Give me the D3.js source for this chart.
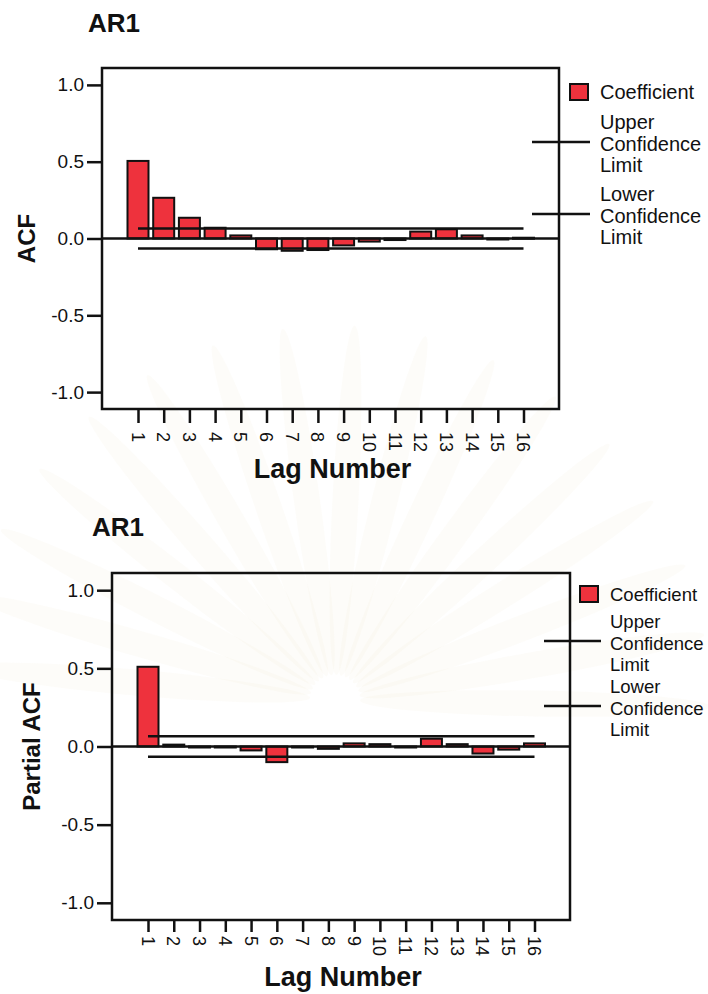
<!DOCTYPE html>
<html>
<head>
<meta charset="utf-8">
<script src="https://cdn.jsdelivr.net/npm/d3@7"></script>
<style>
  body { margin: 0; background: #fff; }
  text { font-family: "Liberation Sans", Arial, sans-serif; fill: #111; }
</style>
</head>
<body>
<svg id="chart" width="708" height="994"></svg>
<script>
// lags and coefficients
const lags = d3.range(1, 17);
const acfValues = [0.505, 0.265, 0.135, 0.07, 0.02, -0.07, -0.08, -0.075, -0.045, -0.02, -0.01, 0.045, 0.06, 0.02, -0.005, 0.005];
const pacfValues = [0.51, 0.012, -0.002, -0.003, -0.025, -0.1, -0.003, -0.015, 0.02, 0.015, -0.005, 0.05, 0.015, -0.045, -0.02, 0.02];
const confLimit = 0.065;
const yTicks = [1.0, 0.5, 0.0, -0.5, -1.0];
const legendItems = [["Coefficient"], ["Upper", "Confidence", "Limit"], ["Lower", "Confidence", "Limit"]];

const svg = d3.select("#chart");
const FONT = "\"Liberation Sans\", Arial, sans-serif";

// very faint watermark rays behind everything
const wm = svg.append("g").attr("transform", "translate(335,700)");
d3.range(-175, 5, 11).forEach(a => {
  wm.append("ellipse")
    .attr("cx", 200).attr("cy", 0).attr("rx", 175).attr("ry", 13)
    .attr("transform", "rotate(" + a + ")")
    .style("fill", "#f3ead0").style("opacity", 0.13);
});

function drawPanel(cfg) {
  const { left, right, top, bottom, values, title, titleX, titleY, yLabel, yLabelX,
          tickLen, tickLabelGap, xTitleGap, legendX, lineX0, lineX1, legendY, legendFont } = cfg;

  const x = d3.scalePoint().domain(lags).range([left + 36, right - 35.5]);
  const y = d3.scaleLinear().domain([-1.11, 1.11]).range([bottom, top]);
  const barW = 21;

  const g = svg.append("g");

  g.append("text")
    .attr("x", titleX).attr("y", titleY)
    .attr("text-anchor", "middle")
    .style("font-size", "26px").style("font-weight", "bold")
    .text(title);

  // plot frame
  g.append("rect")
    .attr("x", left).attr("y", top)
    .attr("width", right - left).attr("height", bottom - top)
    .style("fill", "none").style("stroke", "#111").style("stroke-width", 2.5);

  // bars
  g.selectAll("rect.bar")
    .data(values)
    .enter()
    .append("rect")
    .attr("class", "bar")
    .attr("x", (d, i) => x(lags[i]) - barW / 2)
    .attr("y", d => y(Math.max(d, 0)))
    .attr("width", barW)
    .attr("height", d => Math.max(Math.abs(y(d) - y(0)), 1))
    .style("fill", "#ee323d").style("stroke", "#111").style("stroke-width", 2);

  // zero line
  g.append("line")
    .attr("x1", left).attr("x2", right)
    .attr("y1", y(0)).attr("y2", y(0))
    .style("stroke", "#111").style("stroke-width", 2.5);

  // confidence limits
  [confLimit, -confLimit].forEach(c => {
    g.append("line")
      .attr("x1", x(1)).attr("x2", x(16))
      .attr("y1", y(c)).attr("y2", y(c))
      .style("stroke", "#111").style("stroke-width", 2.5);
  });

  // y axis
  const yAxis = g.append("g")
    .attr("transform", "translate(" + left + ",0)")
    .call(d3.axisLeft(y).tickValues(yTicks).tickSize(15).tickPadding(3).tickFormat(d => d.toFixed(1)));
  yAxis.select(".domain").remove();
  yAxis.selectAll("line").style("stroke", "#111").style("stroke-width", 2.5);
  yAxis.selectAll("text")
    .style("font-size", "19px").style("font-family", FONT).attr("fill", "#111");

  // x axis: ticks from the axis, labels rotated by hand
  const xAxis = g.append("g")
    .attr("transform", "translate(0," + bottom + ")")
    .call(d3.axisBottom(x).tickSize(tickLen).tickFormat(""));
  xAxis.select(".domain").remove();
  xAxis.selectAll("line").style("stroke", "#111").style("stroke-width", 2.5);

  g.selectAll("text.lag")
    .data(lags)
    .enter()
    .append("text")
    .attr("class", "lag")
    .attr("transform", d => "translate(" + (x(d) - 6.5) + "," + (bottom + tickLabelGap) + ") rotate(90)")
    .attr("text-anchor", "start")
    .style("font-size", "18px").style("font-family", FONT)
    .text(d => d);

  g.append("text")
    .attr("x", (left + right) / 2 + 2).attr("y", bottom + xTitleGap)
    .attr("text-anchor", "middle")
    .style("font-size", "27px").style("font-weight", "bold")
    .text("Lag Number");

  g.append("text")
    .attr("transform", "translate(" + yLabelX + "," + y(0) + ") rotate(-90)")
    .attr("text-anchor", "middle")
    .style("font-size", "24px").style("font-weight", "bold")
    .text(yLabel);

  // legend
  const lg = g.append("g");
  lg.append("rect")
    .attr("x", legendX - 30).attr("y", legendY[0] - 15)
    .attr("width", 18).attr("height", 16)
    .style("fill", "#ee323d").style("stroke", "#111").style("stroke-width", 2);
  legendItems.forEach((lines, k) => {
    lines.forEach((s, j) => {
      lg.append("text")
        .attr("x", legendX).attr("y", legendY[k] + j * 21.5)
        .style("font-size", legendFont + "px")
        .text(s);
    });
    if (k > 0) {
      lg.append("line")
        .attr("x1", lineX0).attr("x2", lineX1)
        .attr("y1", legendY[k] + 13).attr("y2", legendY[k] + 13)
        .style("stroke", "#111").style("stroke-width", 2.5);
    }
  });
}

drawPanel({
  left: 102, right: 559, top: 68, bottom: 409,
  values: acfValues, title: "AR1", titleX: 114, titleY: 32,
  yLabel: "ACF", yLabelX: 35, tickLen: 14, tickLabelGap: 23, xTitleGap: 69,
  legendX: 600, lineX0: 532, lineX1: 590, legendY: [99, 129, 201], legendFont: 20
});

drawPanel({
  left: 112, right: 570, top: 573, bottom: 920,
  values: pacfValues, title: "AR1", titleX: 118, titleY: 536,
  yLabel: "Partial ACF", yLabelX: 40, tickLen: 12, tickLabelGap: 16, xTitleGap: 66,
  legendX: 610, lineX0: 544, lineX1: 601, legendY: [601, 628, 693], legendFont: 18.5
});
</script>
</body>
</html>
